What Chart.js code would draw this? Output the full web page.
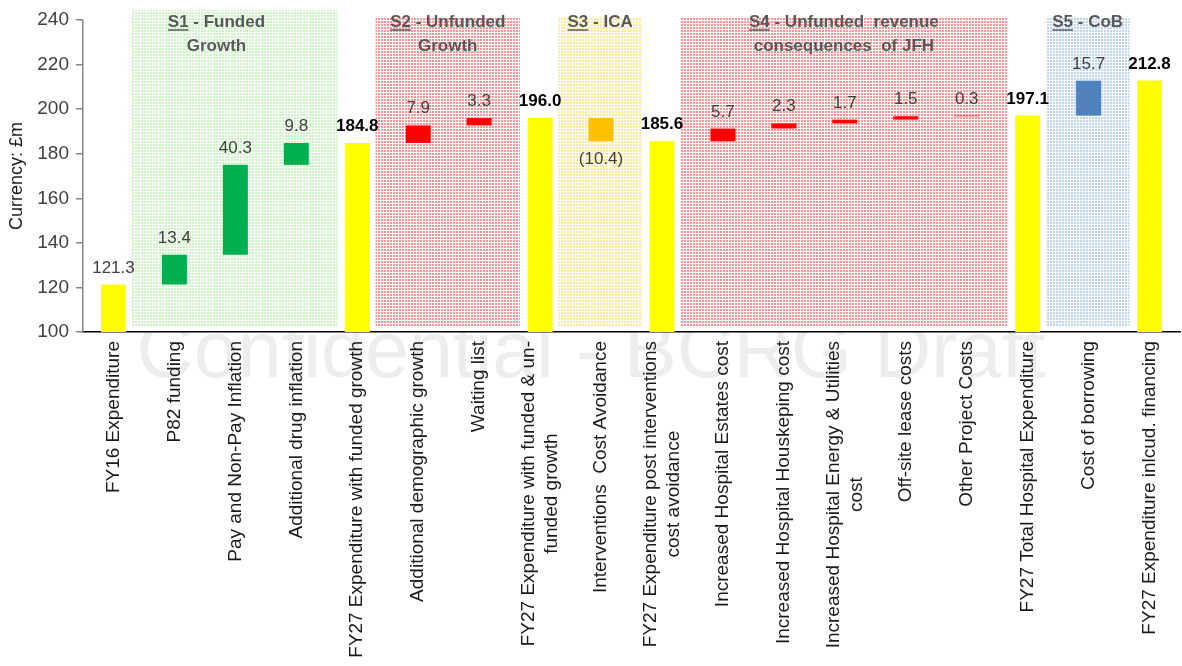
<!DOCTYPE html>
<html>
<head>
<meta charset="utf-8">
<script src="https://cdn.jsdelivr.net/npm/chart.js@4.4.1/dist/chart.umd.min.js"></script>
<style>
  html, body { margin: 0; padding: 0; background: #fff; }
</style>
</head>
<body>
<canvas id="myChart" width="1182" height="666"></canvas>
<script>
const categories = [
  'FY16 Expenditure', 'P82 funding', 'Pay and Non-Pay Inflation', 'Additional drug inflation',
  'FY27 Expenditure with funded growth', 'Additional demographic growth', 'Waiting list',
  ['FY27 Expenditure with funded & un-', 'funded growth'], 'Interventions  Cost Avoidance',
  ['FY27 Expenditure post interventions', 'cost avoidance'], 'Increased Hospital Estates cost',
  'Increased Hospital Houskeping cost', ['Increased Hospital Energy & Utilities', 'cost'],
  'Off-site lease costs', 'Other Project Costs', 'FY27 Total Hospital Expenditure',
  'Cost of borrowing', 'FY27 Expenditure inlcud. financing'
];
// totals are absolute, the rest are steps from the previous total
const values = [121.3, 13.4, 40.3, 9.8, 184.8, 7.9, 3.3, 196.0, -10.4, 185.6, 5.7, 2.3, 1.7, 1.5, 0.3, 197.1, 15.7, 212.8];
const groups = ['total', 'S1', 'S1', 'S1', 'total', 'S2', 'S2', 'total', 'S3', 'total',
  'S4', 'S4', 'S4', 'S4', 'S4', 'total', 'S5', 'total'];

const sectionIds = ['S1', 'S2', 'S3', 'S4', 'S5'];
const sectionText = [[' - Funded', 'Growth'], [' - Unfunded', 'Growth'], [' - ICA'],
  [' - Unfunded  revenue', 'consequences  of JFH'], [' - CoB']];
const sectionFirst = [1, 5, 8, 10, 16];
const sectionLast = [3, 6, 8, 14, 16];

const yTicks = { min: 100, max: 240, step: 20 };

const FONT = "'Liberation Sans', Arial, sans-serif";
const barColours = { total: '#FFFF00', S1: '#00B050', S2: '#FF0000', S3: '#FFC000', S4: '#FF0000', S5: '#4F81BD' };
const dotColours = {
  S1: 'rgba(110,230,90,0.38)', S2: 'rgba(255,40,40,0.5)', S3: 'rgba(255,200,0,0.4)',
  S4: 'rgba(255,40,40,0.5)', S5: 'rgba(90,150,220,0.4)'
};

let running = 0;
const barData = values.map((v, i) => {
  if (groups[i] === 'total') { running = v; return v; }
  const from = running;
  running = Math.round((running + v) * 10) / 10;
  return [Math.min(from, running), Math.max(from, running)];
});

function dotPattern(ctx, colour) {
  const c = document.createElement('canvas');
  c.width = 3; c.height = 3;
  const g = c.getContext('2d');
  g.fillStyle = colour;
  g.fillRect(0, 0, 2, 2);
  return ctx.createPattern(c, 'repeat');
}

const watermark = {
  id: 'watermark',
  beforeDraw(chart) {
    const { ctx, chartArea } = chart;
    ctx.save();
    ctx.beginPath();
    ctx.rect(0, chartArea.bottom, chart.width, chart.height - chartArea.bottom);
    ctx.clip();
    ctx.font = '79px ' + FONT;
    ctx.fillStyle = '#ededed';
    ctx.textAlign = 'center';
    ctx.textBaseline = 'alphabetic';
    ctx.fillText('Confidential - BCRG Draft', chart.width / 2, chartArea.bottom + 45);
    ctx.restore();
  }
};

const sections = {
  id: 'sections',
  beforeDatasetsDraw(chart) {
    const { ctx, chartArea, scales: { x } } = chart;
    const step = x.getPixelForValue(1) - x.getPixelForValue(0);
    ctx.save();
    sectionIds.forEach((id, k) => {
      const left = x.getPixelForValue(sectionFirst[k]) - step * 0.7;
      const right = x.getPixelForValue(sectionLast[k]) + step * 0.67;
      const top = chartArea.top - (k === 0 ? 10 : 3);
      const bottom = chartArea.bottom - 5;
      ctx.fillStyle = dotPattern(ctx, dotColours[id]);
      ctx.fillRect(left, top, right - left, bottom - top);

      const cx = (left + right) / 2 - (k === 0 ? 18 : 0);
      ctx.font = 'bold 17px ' + FONT;
      ctx.fillStyle = '#595959';
      ctx.strokeStyle = '#595959';
      ctx.textBaseline = 'alphabetic';
      const lines = sectionText[k];
      const first = id + lines[0];
      const w = ctx.measureText(first).width;
      const x0 = cx - w / 2;
      const y0 = chartArea.top + 7;
      ctx.textAlign = 'left';
      ctx.fillText(first, x0, y0);
      const idW = ctx.measureText(id).width;
      ctx.lineWidth = 1.5;
      ctx.beginPath();
      ctx.moveTo(x0, y0 + 3);
      ctx.lineTo(x0 + idW, y0 + 3);
      ctx.stroke();
      ctx.textAlign = 'center';
      for (let j = 1; j < lines.length; j++) {
        ctx.fillText(lines[j], cx, y0 + 24 * j);
      }
    });
    ctx.restore();
  }
};

const valueLabels = {
  id: 'valueLabels',
  afterDatasetsDraw(chart) {
    const { ctx } = chart;
    const meta = chart.getDatasetMeta(0);
    ctx.save();
    ctx.textAlign = 'center';
    meta.data.forEach((bar, i) => {
      const v = values[i];
      const bold = groups[i] === 'total' && i > 0;
      const top = Math.min(bar.y, bar.base);
      const bottom = Math.max(bar.y, bar.base);
      ctx.font = (bold ? 'bold ' : '') + '17px ' + FONT;
      ctx.fillStyle = bold ? '#000' : '#404040';
      if (v < 0) {
        ctx.textBaseline = 'top';
        ctx.fillText('(' + Math.abs(v).toFixed(1) + ')', bar.x, bottom + 10);
      } else {
        ctx.textBaseline = 'alphabetic';
        ctx.fillText(v.toFixed(1), bar.x, top - 12);
      }
    });
    ctx.restore();
  }
};

const xLabels = {
  id: 'xLabels',
  afterDraw(chart) {
    const { ctx, chartArea, scales: { x } } = chart;
    const lh = 23;
    ctx.save();
    ctx.font = '19px ' + FONT;
    ctx.fillStyle = '#1a1a1a';
    ctx.textBaseline = 'middle';
    categories.forEach((label, i) => {
      const lines = Array.isArray(label) ? label : [label];
      const px = x.getPixelForValue(i);
      ctx.save();
      ctx.translate(px, chartArea.bottom + 9);
      ctx.rotate(-Math.PI / 2);
      if (lines.length === 1) {
        ctx.textAlign = 'right';
        ctx.fillText(lines[0], 0, 0);
      } else {
        const W = Math.max(...lines.map(l => ctx.measureText(l).width));
        ctx.textAlign = 'center';
        lines.forEach((l, j) => {
          ctx.fillText(l, -W / 2, (j - (lines.length - 1) / 2) * lh);
        });
      }
      ctx.restore();
    });
    ctx.restore();
  }
};

const ctx = document.getElementById('myChart').getContext('2d');
new Chart(ctx, {
  type: 'bar',
  data: {
    labels: categories,
    datasets: [{
      data: barData,
      backgroundColor: groups.map(g => barColours[g]),
      borderWidth: 0,
      categoryPercentage: 1,
      barPercentage: 0.41,
    }],
  },
  options: {
    responsive: false,
    animation: false,
    devicePixelRatio: 1,
    layout: { padding: { top: 20, right: 2, left: 0, bottom: 0 } },
    plugins: { legend: { display: false }, tooltip: { enabled: false } },
    scales: {
      x: {
        grid: { display: false },
        border: { display: true, color: '#000', width: 1.5 },
        ticks: { display: false },
        afterFit(scale) { scale.height = 334; },
      },
      y: {
        min: yTicks.min,
        max: yTicks.max,
        ticks: { stepSize: yTicks.step, color: '#404040', padding: 7, font: { size: 19, family: FONT } },
        grid: { drawOnChartArea: false, drawTicks: true, tickLength: 7, color: '#868686', lineWidth: 1.5 },
        border: { color: '#868686', width: 1.5 },
        title: { display: true, text: 'Currency: £m', color: '#1a1a1a', font: { size: 18, family: FONT }, padding: { top: 6, bottom: 0 } },
        afterFit(scale) { scale.width = 83; },
      },
    },
  },
  plugins: [watermark, sections, valueLabels, xLabels],
});
</script>
</body>
</html>
